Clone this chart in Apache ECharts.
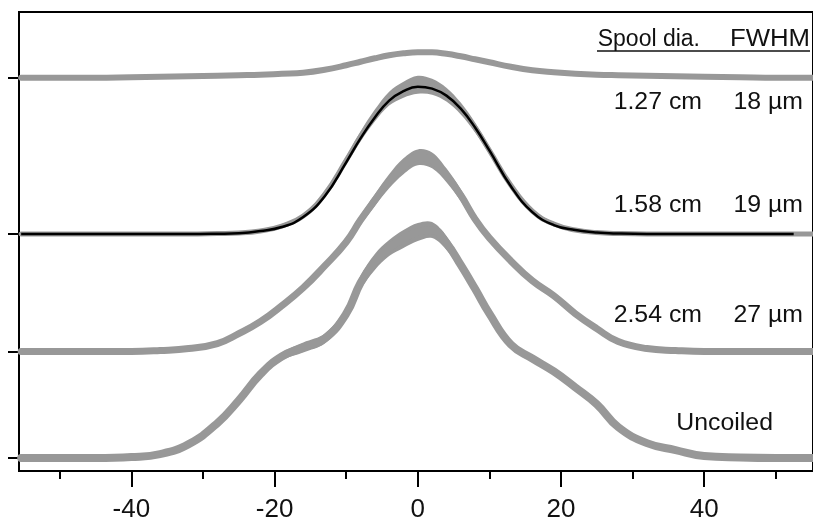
<!DOCTYPE html>
<html><head><meta charset="utf-8">
<script src="https://cdn.jsdelivr.net/npm/echarts@6/dist/echarts.min.js"></script>
<style>html,body{margin:0;padding:0;background:#fff}#c{width:813px;height:523px}</style>
</head><body><div id="c"></div>
<script>
// ---- data (x in µm, y = signal height above each trace's baseline, arbitrary units) ----
const xPos = [-55.4,-50,-45,-40,-36,-32,-28,-25,-22,-19,-16,-13,-10,-8,-6,-4,-2,0,2,4,6,8,10,13,16,19,22,25,28,32,36,40,45,50,55.2];
// vertical offsets (baselines) of the four stacked traces, top to bottom
const offsets = [395, 238, 120, 13];
// top smooth trace
const trace1 = [0,0,0,0.5,1,1.5,2,2.5,3,4,5,8,12.5,16,19.5,22.5,24.5,25.5,25.5,24,21.5,18.5,15.5,11,7.5,5.5,4,3,2.5,2,1.5,1,0.5,0,0];
// second trace: measured (gray) and fit (black)
const trace2 = [0,0,0,0,0,0,0.5,1,3,8,18,40,74,98,119,136,145,150,148,140,126,107,84,49,23,10,4,1.5,0.5,0,0,0,0,0,0];
const noise2 = [1,1,1,1,1,1,1,1,1,2,2,3,4,5,6,7,8,9,8,7,6,5,4,3,2,2,1,1,1,1,1,1,1,1,1];
const fit2   = [0,0,0,0,0,0,0.3,0.8,3,7,17,38,72,96,117,134,143.5,148,146,139,126,107,84,48,22,9,4,1.5,0.5,0,0,0,0,0];
const fitEndX = 52.5;
// third trace
const trace3 = [0,0,0,0,1,3,8,18,30,46,64,86,110,132,152,171,186,195,192,177,157,133,114,91,71,56,38,23,10,3,1,0,0,0,0];
const noise3 = [1,1,1,1,1,1,1,1,2,2,3,3,4,5,6,7,8,8,8,7,6,5,4,3,3,2,2,1,1,1,1,1,1,1,1];
// bottom trace (uncoiled)
const trace4 = [0,0,0,1,4,14,35,58,84,102,111,120,145,176,197,211,220,227,229,216,194,170,145,114,100,87,71,54,31,15,8,2,0.5,0,0];
const noise4 = [1,1,1,1,1,1,1,2,3,4,5,5,6,7,8,8,9,9,8,7,6,5,4,3,3,3,2,2,1,1,1,1,1,1,1];
const xMajorTicks = [-40,-20,0,20,40];
const xMinorTicks = [-50,-30,-10,10,30,50];
const headerLabels = ['Spool dia.', 'FWHM'];
const diameters = ['1.27 cm', '1.58 cm', '2.54 cm', 'Uncoiled'];
const fwhms = ['18 µm', '19 µm', '27 µm', ''];

// ---- build chart ----
const GRAY = '#989898';
const FONT = '"Liberation Sans", Arial, Helvetica, sans-serif';
const SM = 0.45;

function lineSeries(name, values, off, width, color, z) {
  return {
    name, type: 'line', symbol: 'none', smooth: SM, z: z || 2, silent: true,
    data: xPos.map((x, i) => [x, off + values[i]]),
    lineStyle: { width, color, cap: 'round', join: 'round' }
  };
}
function bandSeries(name, values, noise, off) {
  return {
    name: name + '_noise', type: 'custom', silent: true, z: 1,
    data: [[0, off]], encode: { x: 0, y: 1 },
    renderItem: function (params, api) {
      const up = xPos.map((x, i) => api.coord([x, off + values[i] + noise[i]]));
      const lo = xPos.map((x, i) => api.coord([x, off + values[i] - noise[i]])).reverse();
      return { type: 'polygon', shape: { points: up.concat(lo), smooth: 0.35 }, style: { fill: GRAY } };
    }
  };
}

const series = [];
series.push(lineSeries('t1', trace1, offsets[0], 6, GRAY));
series.push(bandSeries('t2', trace2, noise2, offsets[1]));
series.push(lineSeries('t2', trace2, offsets[1], 5, GRAY));
series.push(bandSeries('t3', trace3, noise3, offsets[2]));
series.push(lineSeries('t3', trace3, offsets[2], 7, GRAY));
series.push(bandSeries('t4', trace4, noise4, offsets[3]));
series.push(lineSeries('t4', trace4, offsets[3], 8, GRAY));
series.push({
  name: 'fit', type: 'line', symbol: 'none', smooth: SM, z: 5, silent: true,
  data: fit2.map((v, i) => [xPos[i], offsets[1] + v]).concat([[fitEndX, offsets[1]]]),
  lineStyle: { width: 2.5, color: '#000' }
});

const rowY = [103, 206, 316, 424];
const graphic = [
  { type: 'text', x: 700, y: 40, scaleX: 1.0, style: { text: headerLabels[0], font: '23px ' + FONT, fill: '#111', align: 'right', verticalAlign: 'middle' } },
  { type: 'text', x: 810, y: 40, scaleX: 1.12, style: { text: headerLabels[1], font: '23px ' + FONT, fill: '#111', align: 'right', verticalAlign: 'middle' } },
  { type: 'line', shape: { x1: 597, y1: 51, x2: 810, y2: 51 }, style: { stroke: '#111', lineWidth: 1.5 } }
];
diameters.forEach((d, i) => {
  graphic.push({ type: 'text', x: i === 3 ? 773 : 702, y: rowY[i], scaleX: 1.08,
    style: { text: d, font: '23px ' + FONT, fill: '#111', align: 'right', verticalAlign: 'middle' } });
  if (fwhms[i]) graphic.push({ type: 'text', x: 803, y: rowY[i], scaleX: 1.08,
    style: { text: fwhms[i], font: '23px ' + FONT, fill: '#111', align: 'right', verticalAlign: 'middle' } });
});

const chart = echarts.init(document.getElementById('c'), null, { renderer: 'canvas' });
chart.setOption({
  animation: false,
  backgroundColor: '#fff',
  grid: { left: 19, top: 12, right: -2, bottom: 50, show: true, borderColor: '#000', borderWidth: 2, backgroundColor: 'transparent' },
  xAxis: [
    { type: 'value', min: -55.7, max: 55.2, position: 'bottom',
      splitLine: { show: false },
      axisLine: { show: true, onZero: false, lineStyle: { color: '#000', width: 2 } },
      axisTick: { show: true, inside: false, length: 16, customValues: xMajorTicks, lineStyle: { color: '#000', width: 2 } },
      axisLabel: { show: true, customValues: xMajorTicks, margin: 26, fontSize: 26, fontFamily: FONT, color: '#111' } },
    { type: 'value', min: -55.7, max: 55.2, position: 'bottom',
      splitLine: { show: false },
      axisLine: { show: false },
      axisTick: { show: true, inside: false, length: 8, customValues: xMinorTicks, lineStyle: { color: '#000', width: 2 } },
      axisLabel: { show: false } }
  ],
  yAxis: { type: 'value', min: 0, max: 461,
    splitLine: { show: false },
    axisLine: { show: true, onZero: false, lineStyle: { color: '#000', width: 2 } },
    axisTick: { show: true, inside: false, length: 11, customValues: offsets, lineStyle: { color: '#000', width: 2 } },
    axisLabel: { show: false } },
  series,
  graphic
});
</script></body></html>
